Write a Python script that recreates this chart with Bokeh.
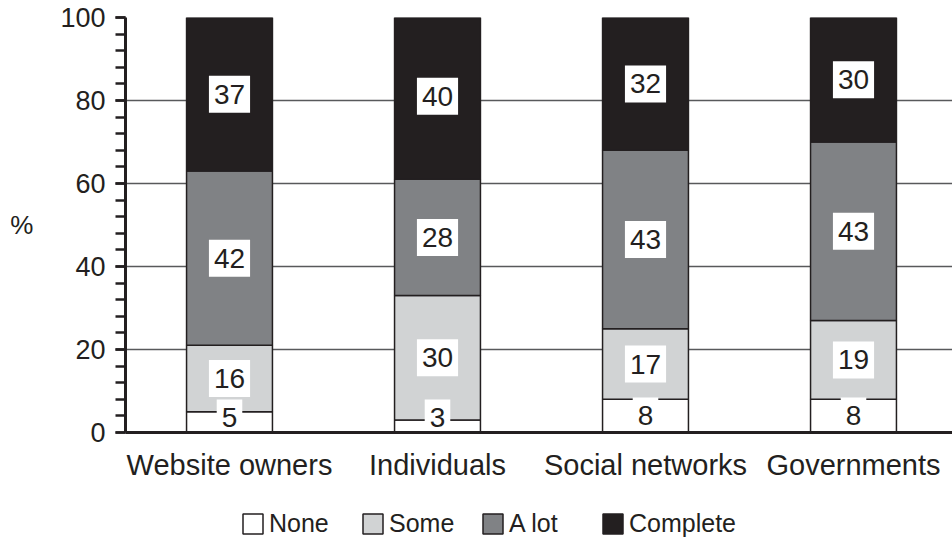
import numpy as np
from bokeh.plotting import figure
from bokeh.layouts import column
from bokeh.models import ColumnDataSource, Range1d, FixedTicker, SingleIntervalTicker, Legend, LegendItem
from bokeh.core.properties import value
from bokeh.embed import file_html
from bokeh.resources import INLINE

categories = ["Website owners", "Individuals", "Social networks", "Governments"]
series = ["None", "Some", "A lot", "Complete"]
none_vals = [5, 3, 8, 8]
some_vals = [16, 30, 17, 19]
alot_vals = [42, 28, 43, 43]
complete_vals = [37, 40, 32, 30]
colors = ["#ffffff", "#d1d3d4", "#808285", "#231f20"]

FONT = "Liberation Sans"
DARK = "#231f20"

xs = list(range(len(categories)))
source = ColumnDataSource(dict(x=xs, none=none_vals, some=some_vals, alot=alot_vals, complete=complete_vals))

p = figure(width=952, height=483, output_backend="svg", toolbar_location=None,
           x_range=Range1d(-0.5, -0.5 + 827 / 208), y_range=Range1d(0, 100),
           min_border_left=125, min_border_right=0, min_border_top=17, min_border_bottom=40)
p.outline_line_color = None
p.background_fill_color = "white"

renderers = p.vbar_stack(["none", "some", "alot", "complete"], x="x", width=0.413, source=source,
                         fill_color=colors, line_color=DARK, line_width=1.5)

# value labels
stack_lists = [none_vals, some_vals, alot_vals, complete_vals]
lx, ly, lt = [], [], []
for i in range(len(categories)):
    base = 0
    for k, vals in enumerate(stack_lists):
        v = vals[i]
        mid = base + v / 2
        if k == 0:
            mid = max(mid, 3.5)
        lx.append(xs[i]); ly.append(mid); lt.append(str(v))
        base += v
p.text(x=lx, y=ly, text=lt, text_align="center", text_baseline="middle",
       text_font=value(FONT), text_font_size="28px", text_color=DARK,
       background_fill_color="white", padding=(5, 9))

# axes
p.xaxis.ticker = FixedTicker(ticks=xs)
p.xaxis.major_label_overrides = {i: c for i, c in enumerate(categories)}
p.xaxis.major_tick_line_color = None
p.xaxis.minor_tick_line_color = None
p.xaxis.axis_line_width = 3
p.xaxis.axis_line_color = DARK
p.xaxis.major_label_standoff = 10
p.xaxis.major_label_text_font = FONT
p.xaxis.major_label_text_font_size = "29px"
p.xaxis.major_label_text_color = DARK

p.yaxis.ticker = SingleIntervalTicker(interval=20, num_minor_ticks=5)
p.yaxis.axis_line_width = 3
p.yaxis.axis_line_color = DARK
p.yaxis.major_tick_out = 10
p.yaxis.major_tick_in = 0
p.yaxis.minor_tick_out = 10
p.yaxis.minor_tick_in = 0
p.yaxis.major_tick_line_width = 2.5
p.yaxis.minor_tick_line_width = 2.5
p.yaxis.major_tick_line_color = DARK
p.yaxis.minor_tick_line_color = DARK
p.yaxis.major_label_standoff = 10
p.yaxis.major_label_text_font = FONT
p.yaxis.major_label_text_font_size = "27px"
p.yaxis.major_label_text_color = DARK
p.yaxis.axis_label = "%"
p.yaxis.axis_label_orientation = "horizontal"
p.yaxis.axis_label_text_font = FONT
p.yaxis.axis_label_text_font_size = "26px"
p.yaxis.axis_label_text_font_style = "normal"
p.yaxis.axis_label_text_color = DARK
p.yaxis.axis_label_standoff = 24

p.xgrid.grid_line_color = None
p.ygrid.grid_line_color = "#58595b"
p.ygrid.grid_line_width = 1.5

# legend strip below the chart; its key renderers hold no drawable data
lg = figure(width=952, height=59, output_backend="svg", toolbar_location=None,
            x_range=Range1d(0, 1), y_range=Range1d(0, 1),
            x_axis_type=None, y_axis_type=None,
            min_border_left=0, min_border_right=0, min_border_top=0, min_border_bottom=0)
lg.outline_line_color = None
lg.xgrid.visible = False
lg.ygrid.visible = False
nan = np.array([np.nan])
legend_renderers = [lg.vbar(x=nan, bottom=nan, top=nan, width=0.1,
                            fill_color=c, line_color=DARK, line_width=1.5)
                    for c in colors]
legend = Legend(items=[LegendItem(label=s, renderers=[r]) for s, r in zip(series, legend_renderers)],
                orientation="horizontal", location=(115, 4),
                border_line_color=None, background_fill_alpha=0,
                glyph_width=25, glyph_height=25, label_standoff=4, spacing=5, label_width=86,
                label_text_font=FONT, label_text_font_size="25px", label_text_color=DARK,
                padding=0, margin=0)
lg.add_layout(legend, "center")

layout = column(p, lg, spacing=0)
open("out.html", "w").write(file_html(layout, INLINE))
